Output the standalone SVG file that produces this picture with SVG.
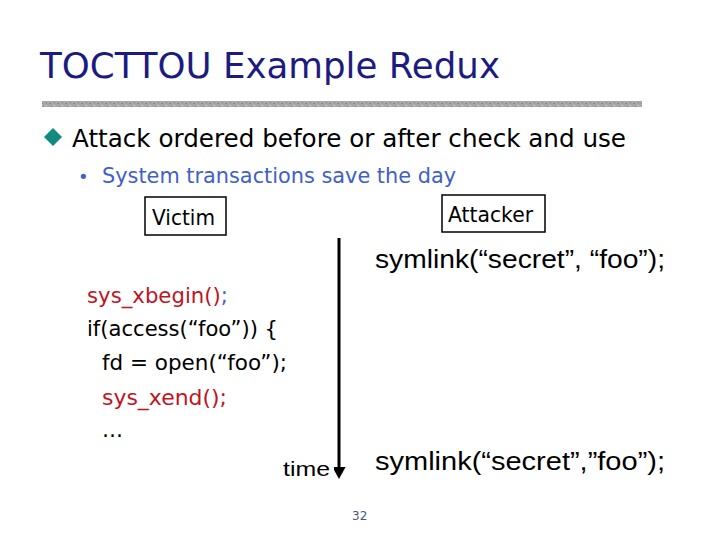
<svg xmlns="http://www.w3.org/2000/svg" width="720" height="540" viewBox="0 0 720 540">
<defs>
<style>
.t{font-family:"DejaVu Sans","Liberation Sans",sans-serif}
.a{font-family:"Liberation Sans",Arial,sans-serif}
.box{fill:#fff;stroke:#000;stroke-width:1.5}
.red{fill:#c0141e}
</style>
<pattern id="noise" width="8" height="6" patternUnits="userSpaceOnUse">
<rect width="8" height="6" fill="#a8a8a8"/>
<rect x="1" y="1" width="2" height="1" fill="#888"/>
<rect x="5" y="3" width="2" height="1" fill="#c4c4c4"/>
<rect x="3" y="4" width="1" height="1" fill="#808080"/>
<rect x="6" y="0" width="1" height="2" fill="#909090"/>
</pattern>
<marker id="ah" markerWidth="4.4" markerHeight="4" refX="0" refY="2.2" orient="auto" markerUnits="strokeWidth">
<path d="M0,0 L4,2.2 L0,4.4 Z" fill="#000"/>
</marker>
</defs>
<rect width="720" height="540" fill="#fff"/>
<text class="t" x="40" y="78" font-size="35" fill="#1c1c80" textLength="460" lengthAdjust="spacingAndGlyphs">TOCTTOU Example Redux</text>
<rect x="42" y="101" width="600" height="6" fill="url(#noise)"/>
<path d="M53,128 L62,137 L53,146 L44,137 Z" fill="#138a80"/>
<text class="t" x="72" y="147" font-size="25" fill="#000" textLength="554" lengthAdjust="spacingAndGlyphs">Attack ordered before or after check and use</text>
<text class="t" x="78" y="183" font-size="18" fill="#4060c8">•</text>
<text class="t" x="102" y="183" font-size="21" fill="#4060c8" textLength="354" lengthAdjust="spacingAndGlyphs">System transactions save the day</text>
<g id="victim">
<rect class="box" x="145" y="197" width="81" height="38"/>
<text class="t" x="152" y="225" font-size="21" textLength="63" lengthAdjust="spacingAndGlyphs">Victim</text>
</g>
<g id="attacker">
<rect class="box" x="442" y="195" width="103" height="37"/>
<text class="t" x="448" y="222" font-size="21" textLength="85" lengthAdjust="spacingAndGlyphs">Attacker</text>
</g>
<g id="connectors">
<line x1="339" y1="238" x2="339" y2="467" stroke="#000" stroke-width="3" marker-end="url(#ah)"/>
</g>
<g id="code" class="t" font-size="21">
<text x="87" y="303" textLength="141" lengthAdjust="spacingAndGlyphs"><tspan class="red">sys_xbegin()</tspan><tspan fill="#4060c8">;</tspan></text>
<text x="87" y="336" textLength="191" lengthAdjust="spacingAndGlyphs">if(access(“foo”)) {</text>
<text x="102" y="370" textLength="185" lengthAdjust="spacingAndGlyphs">fd = open(“foo”);</text>
<text x="102" y="405" class="red" textLength="125" lengthAdjust="spacingAndGlyphs">sys_xend();</text>
<text x="102" y="437">…</text>
</g>
<text class="a" x="375" y="268" font-size="26" textLength="290" lengthAdjust="spacingAndGlyphs">symlink(“secret”, “foo”);</text>
<text class="a" x="283" y="476" font-size="21" textLength="47" lengthAdjust="spacingAndGlyphs">time</text>
<text class="a" x="375" y="470" font-size="26" textLength="290" lengthAdjust="spacingAndGlyphs">symlink(“secret”,”foo”);</text>
<text class="t" x="352" y="520" font-size="12" fill="#4a5a7a">32</text>
</svg>
